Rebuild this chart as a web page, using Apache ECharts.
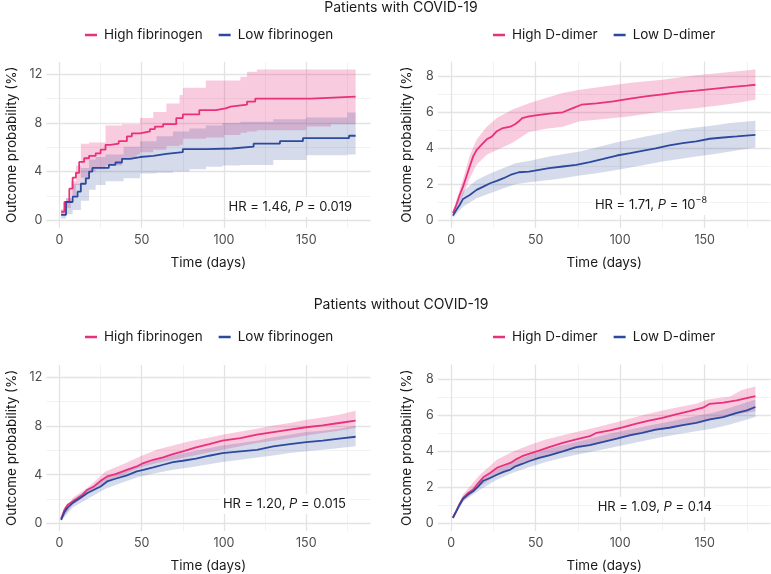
<!DOCTYPE html>
<html><head><meta charset="utf-8">
<script src="https://cdn.jsdelivr.net/npm/echarts@6/dist/echarts.min.js"></script>
<style>html,body{margin:0;padding:0;background:#fff}#c{width:771px;height:574px}</style>
</head><body><div id="c"></div>
<script>
// ---------- tick labels ----------
const xTickLabels = [0, 50, 100, 150];
const xMinorTicks = [25, 75, 125, 175];
const yTicksFib = [0, 4, 8, 12];
const yMinorFib = [2, 6, 10];
const yTicksDD = [0, 2, 4, 6, 8];
const yMinorDD = [1, 3, 5, 7];

// ---------- Panel 1: COVID-19, fibrinogen ----------
const p1HighDays = [1,3,6,8,10,12,15,18,22,25,28,31,36,41,44,49,55,58,63,71,75,85,95,101,104,114,119,153,180];
const p1High     = [0.7,1.5,2.6,3.5,3.9,4.8,5.1,5.3,5.5,5.8,6.2,6.3,6.5,6.9,7.15,7.3,7.5,7.7,7.9,8.4,8.7,9.05,9.2,9.35,9.5,9.75,10.0,10.16,10.16];
const p1HighBandDays = [1,4,7,10,13,18,22,28,38,47,49,57,65,73,75,89,100,110,114,120,150,165,180];
const p1HighHi = [0.9,1.8,3.2,4.5,6.3,6.4,6.4,7.8,7.9,7.9,8.4,8.9,9.6,10.3,10.9,11.5,11.5,11.8,12.2,12.4,12.4,12.4,12.4];
const p1HighLo = [0.4,1.0,2.0,2.9,3.5,4.0,4.2,4.5,5.1,5.4,5.6,5.8,6.1,6.2,6.7,6.8,7.0,7.2,7.3,7.4,7.7,7.9,8.0];
const p1LowDays = [1,4,8,11,13,16,18,20,30,34,38,43,49,57,65,75,89,105,118,134,148,176,180];
const p1Low     = [0.45,1.5,1.95,2.35,3.0,3.45,4.0,4.3,4.55,4.75,5.05,5.2,5.3,5.45,5.6,5.85,5.9,6.05,6.3,6.5,6.75,6.95,6.95];
const p1LowBandDays = [1,4,8,13,18,22,28,39,49,59,69,79,89,99,110,130,150,170,175,180];
const p1LowHi = [0.6,1.8,3.0,4.3,5.0,5.2,5.4,6.05,6.5,6.9,7.3,7.55,7.8,8.0,8.1,8.3,8.45,8.45,8.85,8.85];
const p1LowLo = [0.15,0.5,0.85,1.6,2.5,2.9,3.2,3.45,3.85,3.9,4.0,4.2,4.4,4.5,4.55,4.95,5.35,5.35,5.4,5.4];

// ---------- Panel 2: COVID-19, D-dimer ----------
const p2HighDays = [1,3,5,7,9,11,13,15,18,21,24,27,30,35,38,40,42,46,52,58,66,72,77,86,96,105,115,125,135,145,155,165,175,180];
const p2High     = [0.4,0.85,1.4,1.87,2.43,3.0,3.55,3.9,4.2,4.5,4.65,4.95,5.1,5.2,5.35,5.5,5.68,5.77,5.86,5.92,6.0,6.23,6.42,6.5,6.6,6.75,6.88,7.0,7.12,7.2,7.3,7.4,7.48,7.53];
const p2HighBandDays = [1,7,11,15,21,27,36,46,56,66,76,86,105,125,145,165,180];
const p2HighHi = [0.5,2.3,3.6,4.47,5.2,5.68,6.14,6.5,6.8,7.07,7.25,7.38,7.63,7.8,8.05,8.24,8.37];
const p2HighLo = [0.3,1.4,2.34,3.08,3.64,3.9,4.3,4.9,5.08,5.2,5.5,5.58,5.77,6.05,6.23,6.46,6.7];
const p2LowDays = [1,3,5,7,11,15,19,23,27,31,35,40,46,52,58,66,74,82,90,98,106,113,121,129,137,145,153,161,169,180];
const p2Low     = [0.26,0.57,0.85,1.19,1.41,1.69,1.87,2.06,2.19,2.34,2.52,2.67,2.7,2.8,2.9,2.99,3.08,3.23,3.41,3.6,3.73,3.86,4.0,4.16,4.29,4.38,4.53,4.6,4.66,4.75];
const p2LowBandDays = [1,7,15,23,31,38,46,58,66,76,86,98,106,115,125,135,145,155,165,180];
const p2LowHi = [0.33,1.6,2.24,2.6,2.9,3.17,3.3,3.54,3.67,3.82,4.04,4.34,4.47,4.66,4.84,5.03,5.16,5.27,5.4,5.53];
const p2LowLo = [0.15,0.76,1.22,1.5,1.78,2.0,2.11,2.24,2.34,2.49,2.62,2.8,2.93,3.08,3.27,3.41,3.54,3.67,3.82,4.04];

// ---------- Panel 3: without COVID-19, fibrinogen ----------
const p3Days = [1,3,5,8,11,14,17,21,25,29,34,41,47,51,57,63,69,75,83,91,99,110,120,130,140,150,160,170,180];
const p3High = [0.38,1.12,1.53,1.8,2.08,2.36,2.77,3.04,3.5,3.86,4.05,4.4,4.68,4.96,5.23,5.42,5.7,5.92,6.25,6.52,6.8,7.0,7.29,7.5,7.7,7.9,8.05,8.25,8.44];
const p3Low  = [0.3,0.93,1.32,1.67,1.95,2.22,2.5,2.77,3.04,3.45,3.67,3.95,4.27,4.4,4.6,4.82,5.04,5.15,5.32,5.56,5.78,5.92,6.05,6.33,6.52,6.68,6.8,6.96,7.12];
const p3BandDays = [1,8,18,28,39,49,59,69,79,89,99,110,120,130,140,150,160,170,180];
const p3HighHi = [0.45,2.08,3.04,4.27,4.88,5.5,6.05,6.41,6.74,7.0,7.29,7.56,7.78,8.05,8.25,8.52,8.7,8.93,9.26];
const p3HighLo = [0.3,1.53,2.5,3.45,4.0,4.6,4.96,5.23,5.5,5.78,6.05,6.33,6.6,6.8,7.0,7.23,7.42,7.62,7.84];
const p3LowHi  = [0.38,1.95,2.85,3.73,4.27,4.82,5.23,5.59,5.86,6.14,6.41,6.6,6.8,7.07,7.29,7.5,7.62,7.78,8.03];
const p3LowLo  = [0.2,1.32,2.08,2.85,3.4,3.86,4.14,4.4,4.6,4.82,5.04,5.23,5.42,5.59,5.78,5.92,6.05,6.19,6.33];

// ---------- Panel 4: without COVID-19, D-dimer ----------
const p4HighDays = [1,3,5,7,10,13,16,19,23,27,31,35,38,42,46,52,58,66,74,82,86,94,102,109,117,125,133,141,149,153,161,169,180];
const p4High     = [0.33,0.7,1.08,1.41,1.69,1.87,2.24,2.56,2.8,3.08,3.23,3.36,3.54,3.73,3.86,4.04,4.23,4.47,4.66,4.84,5.03,5.16,5.34,5.53,5.71,5.86,6.05,6.23,6.42,6.64,6.7,6.83,7.07];
const p4LowDays = [1,3,5,7,10,13,16,19,23,27,31,35,38,42,46,52,58,66,74,82,90,98,106,113,121,129,137,145,153,161,169,175,180];
const p4Low     = [0.3,0.67,1.04,1.37,1.6,1.78,2.06,2.37,2.52,2.7,2.86,2.99,3.17,3.3,3.45,3.64,3.78,4.0,4.23,4.34,4.53,4.71,4.9,5.03,5.21,5.31,5.45,5.58,5.77,5.9,6.14,6.27,6.46];
const p4HighBandDays = [1,7,17,27,36,46,56,66,76,86,96,106,115,125,135,145,152,165,172,180];
const p4HighHi = [0.4,1.6,2.7,3.54,3.97,4.34,4.66,4.9,5.12,5.34,5.58,5.83,6.05,6.27,6.46,6.64,6.88,7.05,7.4,7.6];
const p4HighLo = [0.28,1.22,2.06,2.7,3.12,3.45,3.73,4.0,4.19,4.42,4.66,4.84,5.03,5.21,5.4,5.58,5.7,5.96,6.1,6.23];
const p4LowBandDays = [1,7,17,27,36,46,56,66,76,86,96,106,115,125,135,145,155,165,180];
const p4LowHi = [0.35,1.5,2.34,2.99,3.41,3.78,4.1,4.34,4.56,4.79,5.03,5.21,5.4,5.58,5.77,5.96,6.14,6.42,6.88];
const p4LowLo = [0.25,1.22,1.87,2.43,2.8,3.12,3.41,3.64,3.86,4.04,4.23,4.42,4.6,4.79,4.97,5.12,5.27,5.49,5.9];

// ---------- styling ----------
const PINK = '#E8307B', BLUE = '#2C4A9D';
const PINK_FILL = 'rgba(232,48,123,0.25)', BLUE_FILL = 'rgba(44,74,157,0.2)';
const FONT = 'Inter';
const TXT = '#1a1a1a', TICK = '#4d4d4d';

const grids = [
  {left: 46.3, top: 61.9, width: 324.1, height: 165.9},
  {left: 437.7, top: 61.5, width: 332.9, height: 166.4},
  {left: 46.3, top: 364.9, width: 324.1, height: 166.4},
  {left: 437.7, top: 364.5, width: 332.9, height: 166.8}
];
const yCfg = [
  {min: -0.62, max: 13.02, ticks: yTicksFib, minor: yMinorFib, gap: 27},
  {min: -0.42, max: 8.82, ticks: yTicksDD, minor: yMinorDD, gap: 24},
  {min: -0.62, max: 13.02, ticks: yTicksFib, minor: yMinorFib, gap: 27},
  {min: -0.42, max: 8.82, ticks: yTicksDD, minor: yMinorDD, gap: 24}
];
const X_MIN = -8, X_MAX = 189;
const majorLine = {color: '#e3e3e3', width: 1.3};
const minorLine = {color: '#efefef', width: 0.8};

const xAxes = [], yAxes = [];
for (let g = 0; g < 4; g++) {
  xAxes.push({type: 'value', gridIndex: g, min: X_MIN, max: X_MAX,
    axisLine: {show: false}, axisTick: {show: false, customValues: xTickLabels},
    axisLabel: {customValues: xTickLabels, color: TICK, fontSize: 12.5, fontFamily: FONT, margin: 6},
    splitLine: {show: true, lineStyle: majorLine},
    name: 'Time (days)', nameLocation: 'middle', nameGap: 28,
    nameTextStyle: {color: TXT, fontSize: 13.5, fontFamily: FONT}, z: 1});
  const c = yCfg[g];
  yAxes.push({type: 'value', gridIndex: g, min: c.min, max: c.max,
    axisLine: {show: false}, axisTick: {show: false, customValues: c.ticks},
    axisLabel: {customValues: c.ticks, color: TICK, fontSize: 12.5, fontFamily: FONT, margin: 4},
    splitLine: {show: true, lineStyle: majorLine},
    name: 'Outcome probability (%)', nameLocation: 'middle', nameGap: c.gap,
    nameTextStyle: {color: TXT, fontSize: 13.5, fontFamily: FONT}, z: 1});
}
for (let g = 0; g < 4; g++) {
  xAxes.push({type: 'value', gridIndex: g, min: X_MIN, max: X_MAX,
    axisLine: {show: false}, axisTick: {show: false, customValues: xMinorTicks}, axisLabel: {show: false, customValues: xMinorTicks},
    splitLine: {show: true, lineStyle: minorLine}, z: 0});
  const c = yCfg[g];
  yAxes.push({type: 'value', gridIndex: g, min: c.min, max: c.max,
    axisLine: {show: false}, axisTick: {show: false, customValues: c.minor}, axisLabel: {show: false, customValues: c.minor},
    splitLine: {show: true, lineStyle: minorLine}, z: 0});
}

const zip = (d, v) => d.map((x, i) => [x, v[i]]);
const series = [];
function band(g, days, lo, hi, fill, stepped) {
  const n = days.length;
  series.push({type: 'custom', xAxisIndex: g, yAxisIndex: g, silent: true, z: 2,
    data: days.map((d, i) => [d, lo[i], hi[i]]),
    encode: {x: 0, y: [1, 2]},
    renderItem: function (params, api) {
      if (params.dataIndex !== 0) return null;
      const pts = [];
      for (let i = 0; i < n; i++) {
        pts.push(api.coord([days[i], hi[i]]));
        if (stepped && i < n - 1) pts.push(api.coord([days[i + 1], hi[i]]));
      }
      for (let i = n - 1; i >= 0; i--) {
        if (stepped && i < n - 1) pts.push(api.coord([days[i + 1], lo[i]]));
        pts.push(api.coord([days[i], lo[i]]));
      }
      return {type: 'polygon', shape: {points: pts}, style: {fill: fill}};
    }});
}
function curve(g, name, days, vals, color, stepped) {
  series.push({type: 'line', name, xAxisIndex: g, yAxisIndex: g, step: stepped ? 'end' : false, data: zip(days, vals),
    symbol: 'none', itemStyle: {color}, lineStyle: {color, width: 1.8}, z: 5});
}
band(0, p1HighBandDays, p1HighLo, p1HighHi, PINK_FILL, true);
band(0, p1LowBandDays, p1LowLo, p1LowHi, BLUE_FILL, true);
curve(0, 'High fibrinogen', p1HighDays, p1High, PINK, true);
curve(0, 'Low fibrinogen', p1LowDays, p1Low, BLUE, true);
band(1, p2HighBandDays, p2HighLo, p2HighHi, PINK_FILL, false);
band(1, p2LowBandDays, p2LowLo, p2LowHi, BLUE_FILL, false);
curve(1, 'High D-dimer', p2HighDays, p2High, PINK, false);
curve(1, 'Low D-dimer', p2LowDays, p2Low, BLUE, false);
band(2, p3BandDays, p3HighLo, p3HighHi, PINK_FILL, false);
band(2, p3BandDays, p3LowLo, p3LowHi, BLUE_FILL, false);
curve(2, 'High fibrinogen', p3Days, p3High, PINK, false);
curve(2, 'Low fibrinogen', p3Days, p3Low, BLUE, false);
band(3, p4HighBandDays, p4HighLo, p4HighHi, PINK_FILL, false);
band(3, p4LowBandDays, p4LowLo, p4LowHi, BLUE_FILL, false);
curve(3, 'High D-dimer', p4HighDays, p4High, PINK, false);
curve(3, 'Low D-dimer', p4LowDays, p4Low, BLUE, false);

const legendBase = {icon: 'rect', itemWidth: 12, itemHeight: 2.5, itemGap: 16, selectedMode: false, padding: 0,
  textStyle: {color: TXT, fontSize: 13.5, fontFamily: FONT, padding: [0, 0, 0, 2]}};
const legends = [
  Object.assign({}, legendBase, {data: ['High fibrinogen', 'Low fibrinogen'], left: 85, top: 28}),
  Object.assign({}, legendBase, {data: ['High D-dimer', 'Low D-dimer'], left: 493, top: 28}),
  Object.assign({}, legendBase, {data: ['High fibrinogen', 'Low fibrinogen'], left: 85, top: 330}),
  Object.assign({}, legendBase, {data: ['High D-dimer', 'Low D-dimer'], left: 493, top: 330})
];

const rich = {
  a: {fontSize: 13, fontFamily: FONT, fill: TXT, color: TXT, lineHeight: 18},
  i: {fontSize: 13, fontFamily: FONT, fontStyle: 'italic', fill: TXT, color: TXT, lineHeight: 18},
  s: {fontSize: 9, fontFamily: FONT, fill: TXT, color: TXT, verticalAlign: 'top', lineHeight: 10}
};
function note(x, y, text) {
  return {type: 'text', x, y, z: 50, style: {text, rich, align: 'right', verticalAlign: 'middle',
    backgroundColor: '#fff', padding: [1, 3], fill: TXT}};
}
function heading(y, text) {
  return {type: 'text', x: 401, y, z: 50, style: {text, align: 'center', verticalAlign: 'middle',
    fill: TXT, font: '14px ' + FONT}};
}

const chart = echarts.init(document.getElementById('c'), null, {renderer: 'canvas'});
chart.setOption({
  animation: false,
  backgroundColor: '#fff',
  legend: legends,
  grid: grids,
  xAxis: xAxes,
  yAxis: yAxes,
  series,
  graphic: [
    heading(8, 'Patients with COVID-19'),
    heading(305, 'Patients without COVID-19'),
    note(355, 207, '{a|HR = 1.46, }{i|P}{a| = 0.019}'),
    note(710, 205, '{a|HR = 1.71, }{i|P}{a| = 10}{s|−8}'),
    note(349, 504, '{a|HR = 1.20, }{i|P}{a| = 0.015}'),
    note(715, 507, '{a|HR = 1.09, }{i|P}{a| = 0.14}')
  ]
});
</script></body></html>
